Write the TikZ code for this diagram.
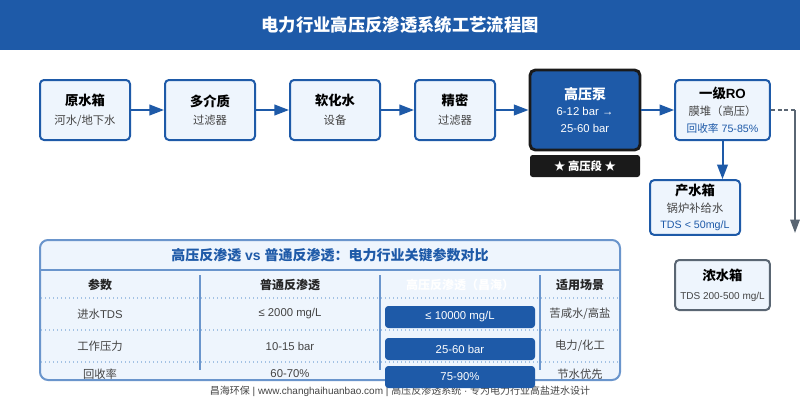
\documentclass[tikz,border=0pt]{standalone}
\usepackage{fontspec}
\setmainfont{Liberation Sans}
\newfontfamily\zh{Noto Sans CJK SC}
\usepackage{xcolor}
\usepackage{tikz}
\usetikzlibrary{arrows.meta,positioning,calc}
\definecolor{primary}{HTML}{1E5AA8}
\definecolor{softblue}{HTML}{EEF5FD}
\definecolor{tableline}{HTML}{6A95CC}
\definecolor{dotline}{HTML}{A3C2E4}
\definecolor{linegray}{HTML}{5A6673}
\definecolor{subgray}{HTML}{444444}
\definecolor{darkbox}{HTML}{1A1A1A}
\tikzset{
  stage/.style={draw=primary, line width=1.5pt, rounded corners=3pt, align=center, fill=softblue, inner sep=2pt, minimum height=45pt, font=\fontsize{10}{14}\selectfont},
  pump/.style={draw=darkbox, line width=2.2pt, rounded corners=4pt, align=center, fill=primary, text=white, inner sep=2pt, minimum width=82.5pt, minimum height=60pt, font=\fontsize{8.5}{12.5}\selectfont},
  tag/.style={fill=darkbox, rounded corners=2pt, text=white, align=center, minimum width=82.5pt, minimum height=16.5pt, inner sep=0pt, font=\fontsize{8.5}{10}\selectfont\bfseries},
  sink/.style={draw=linegray, line width=1.5pt, rounded corners=3pt, align=center, fill=softblue, inner sep=1pt, minimum width=71pt, minimum height=37.5pt, font=\fontsize{10}{14}\selectfont},
  arrow/.style={-{Triangle[length=11pt,width=8pt]}, line width=1.5pt, draw=primary},
  grayarrow/.style={-{Triangle[length=10pt,width=7pt]}, line width=1.5pt, draw=linegray},
  pill/.style={fill=primary, rounded corners=2.5pt, text=white, minimum width=112.5pt, minimum height=16.5pt, inner sep=0pt, font=\fontsize{8.5}{10}\selectfont},
  cell/.style={text=subgray, font=\fontsize{8.5}{10}\selectfont},
  headcell/.style={text=black!85, font=\fontsize{9}{10}\selectfont\bfseries}
}
\newcommand{\subtxt}[1]{{\fontsize{8.5}{12}\selectfont\color{subgray}#1}}
\newcommand{\bluetxt}[1]{{\fontsize{8}{12}\selectfont\color{primary}#1}}

\begin{document}
\begin{tikzpicture}[x=0.75pt, y=-0.75pt]
  \useasboundingbox (0,0) rectangle (800,400);
  \fill[white] (0,0) rectangle (800,400);

  % header
  \fill[primary] (0,0) rectangle (800,50);
  \node[text=white, font=\fontsize{13}{15}\selectfont\bfseries] (title) at (400,25) {\zh 电力行业高压反渗透系统工艺流程图};

  % process chain
  \node[stage, minimum width=67.5pt] (raw) at (85,110) {\textbf{\zh 原水箱}\\\subtxt{\zh 河水/地下水}};
  \node[stage, minimum width=67.5pt] (media) at (210,110) {\textbf{\zh 多介质}\\\subtxt{\zh 过滤器}};
  \node[stage, minimum width=67.5pt] (soft) at (335,110) {\textbf{\zh 软化水}\\\subtxt{\zh 设备}};
  \node[stage, minimum width=60pt] (fine) at (455,110) {\textbf{\zh 精密}\\\subtxt{\zh 过滤器}};
  \node[pump] (hpp) at (585,110) {{\fontsize{10.5}{14}\selectfont\bfseries\zh 高压泵}\\6-12 bar →\\25-60 bar};
  \node[tag] (hptag) at (585,166) {{\zh ★ 高压段 ★}};
  \node[stage, minimum width=71pt, font=\fontsize{10}{12.5}\selectfont] (ro) at (722.5,110) {\textbf{{\zh 一级}RO}\\\subtxt{\zh 膜堆（高压）}\\\bluetxt{{\zh 回收率} 75-85\%}};
  \node[stage, minimum width=67.5pt, minimum height=41pt, font=\fontsize{10}{12.5}\selectfont] (prod) at (695,207.5) {\textbf{\zh 产水箱}\\\subtxt{\zh 锅炉补给水}\\\bluetxt{TDS < 50mg/L}};
  \node[sink] (brine) at (722.5,285) {\textbf{\zh 浓水箱}\\{\fontsize{7.5}{12}\selectfont\color{subgray}TDS 200-500 mg/L}};

  \draw[arrow] (raw) -- (media);
  \draw[arrow] (media) -- (soft);
  \draw[arrow] (soft) -- (fine);
  \draw[arrow] (fine) -- (hpp);
  \draw[arrow] (hpp) -- (ro);
  \draw[arrow] (ro.south) -- (ro.south |- prod.north);

  \coordinate (bend) at (795,110);
  \coordinate (drain) at (795,233);
  \draw[linegray, line width=1.5pt, dash pattern=on 3pt off 2pt] (ro.east) -- (bend);
  \draw[grayarrow] (bend) -- (drain);

  % comparison table
  \draw[tableline, line width=1.5pt, fill=softblue, rounded corners=6pt] (40,240) rectangle (620,380);
  \draw[tableline, line width=1.5pt] (40,270) -- (620,270);
  \node[text=primary, font=\fontsize{10.5}{12}\selectfont\bfseries] (ttitle) at (330,255) {{\zh 高压反渗透} vs {\zh 普通反渗透：电力行业关键参数对比}};
  \foreach \x in {200,380,540} {
    \draw[tableline, line width=1.5pt] (\x,275) -- (\x,370);
  }
  \foreach \y in {298,330,362} {
    \draw[dotline, line width=1pt, dotted] (41,\y) -- (619,\y);
  }

  \node[headcell] (h1) at (100,285) {\zh 参数};
  \node[headcell] (h2) at (290,285) {\zh 普通反渗透};
  \node[headcell, text=white] (h3) at (460,285) {\zh 高压反渗透（昌海）};
  \node[headcell] (h4) at (580,285) {\zh 适用场景};

  \node[cell] (r1a) at (100,314) {{\zh 进水}TDS};
  \node[cell] (r1b) at (290,314) {≤ 2000 mg/L};
  \node[cell] (r1d) at (580,314) {\zh 苦咸水/高盐};
  \node[cell] (r2a) at (100,346) {\zh 工作压力};
  \node[cell] (r2b) at (290,346) {10-15 bar};
  \node[cell] (r2d) at (580,346) {\zh 电力/化工};
  \node[cell] (r3a) at (100,374) {\zh 回收率};
  \node[cell] (r3b) at (290,374) {60-70\%};
  \node[cell] (r3d) at (580,374) {\zh 节水优先};

  % footer
  \node[text=subgray, font=\fontsize{7.5}{9}\selectfont] (footer) at (400,391) {{\zh 昌海环保} | www.changhaihuanbao.com | {\zh 高压反渗透系统} · {\zh 专为电力行业高盐进水设计}};

  \node[pill] (p1) at (460,317) {≤ 10000 mg/L};
  \node[pill] (p2) at (460,349) {25-60 bar};
  \node[pill] (p3) at (460,377) {75-90\%};
\end{tikzpicture}
\end{document}
